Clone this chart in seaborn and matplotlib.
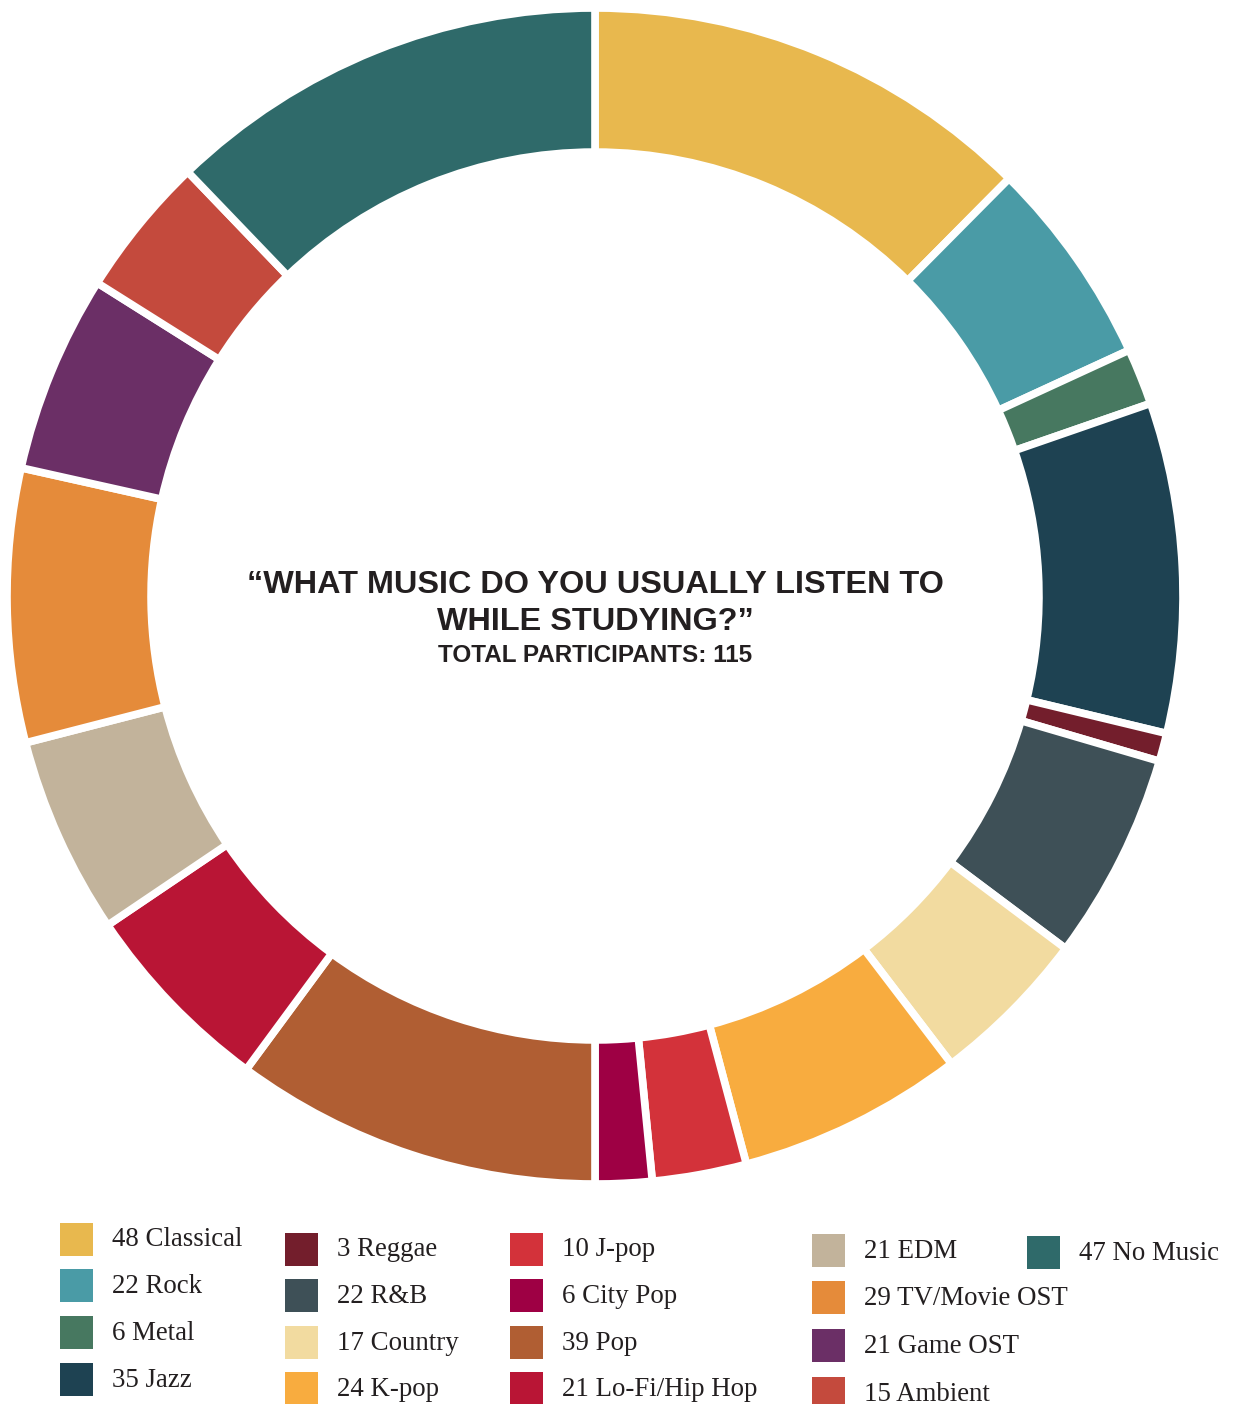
import matplotlib
matplotlib.use("Agg")
import matplotlib.pyplot as plt
from matplotlib.patches import Rectangle
import seaborn as sns

# ---- data ----
genres = ["Classical", "Rock", "Metal", "Jazz", "Reggae", "R&B", "Country", "K-pop",
          "J-pop", "City Pop", "Pop", "Lo-Fi/Hip Hop", "EDM", "TV/Movie OST",
          "Game OST", "Ambient", "No Music"]
counts = [48, 22, 6, 35, 3, 22, 17, 24, 10, 6, 39, 21, 21, 29, 21, 15, 47]
colors = ["#E8B84E", "#4A9BA6", "#477860", "#1E4252", "#731E2C", "#3E5057",
          "#F2DBA0", "#F8AC3F", "#D3323A", "#9E0044", "#B05E33", "#B91535",
          "#C2B39B", "#E58B3A", "#6B2F66", "#C44A3D", "#2F6A6A"]
title_lines = ["\u201cWHAT MUSIC DO YOU USUALLY LISTEN TO", "WHILE STUDYING?\u201d"]
subtitle = "TOTAL PARTICIPANTS: 115"

# legend layout: column index per entry and row index
legend_cols = [0, 0, 0, 0, 1, 1, 1, 1, 2, 2, 2, 2, 3, 3, 3, 3, 4]
legend_rows = [0, 1, 2, 3, 0, 1, 2, 3, 0, 1, 2, 3, 0, 1, 2, 3, 0]

sns.set_theme(style="white")
palette = sns.color_palette(colors)

W, H = 1238, 1404
fig = plt.figure(figsize=(W / 100, H / 100), dpi=100)
fig.patch.set_facecolor("white")

# donut
cx, cy, R = 595, 596, 588
ax = fig.add_axes([(cx - R) / W, (H - cy - R) / H, 2 * R / W, 2 * R / H])
ax.pie(counts, colors=palette, startangle=90, counterclock=False,
       wedgeprops=dict(width=0.245, edgecolor="white", linewidth=5.5))
ax.set_xlim(-1, 1)
ax.set_ylim(-1, 1)
ax.set_aspect("equal")
ax.axis("off")

# overlay in pixel coordinates
ov = fig.add_axes([0, 0, 1, 1])
ov.set_xlim(0, W)
ov.set_ylim(H, 0)
ov.axis("off")
ov.patch.set_alpha(0)

txt_color = "#231F20"
sans = ["Liberation Sans", "DejaVu Sans"]
ov.text(cx, 585, title_lines[0], ha="center", va="center", fontsize=23.3,
        fontweight="bold", family=sans, color=txt_color)
ov.text(cx, 622, title_lines[1], ha="center", va="center", fontsize=23.3,
        fontweight="bold", family=sans, color=txt_color)
ov.text(cx, 656, subtitle, ha="center", va="center", fontsize=17.5,
        fontweight="bold", family=sans, color=txt_color)

# legend (manual grid)
col_x = [60, 285, 510, 812, 1027]
col_y0 = [1239, 1249, 1249, 1250, 1252]
col_step = [46.7, 46.5, 46.5, 47.7, 46.7]
sq = 33
for g, n, c, ci, ri in zip(genres, counts, palette, legend_cols, legend_rows):
    x = col_x[ci]
    y = col_y0[ci] + ri * col_step[ci]
    ov.add_patch(Rectangle((x, y - sq / 2), sq, sq, facecolor=c, edgecolor="none"))
    ov.text(x + sq + 19, y + 1, f"{n} {g}", ha="left", va="center", fontsize=19.4,
            family=["Liberation Serif", "DejaVu Serif"], color=txt_color)

fig.savefig("out.png", dpi=100, facecolor="white")
